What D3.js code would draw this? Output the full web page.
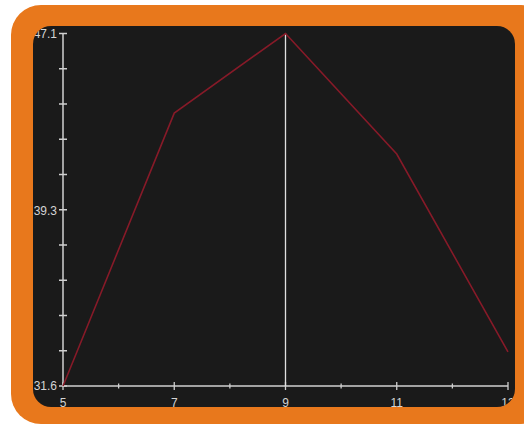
<!DOCTYPE html>
<html><head><meta charset="utf-8">
<script src="https://cdn.jsdelivr.net/npm/d3@7/dist/d3.min.js"></script>
<style>html,body{margin:0;padding:0;background:#fff;}svg{display:block;}</style>
</head><body>
<script>
const xValues = [5, 7, 9, 11, 13];
const yValues = [31.6, 43.6, 47.1, 41.8, 33.1];
const xTickLabels = ["5", "7", "9", "11", "13"];
const yTickLabels = ["31.6", "39.3", "47.1"];
const highlightX = 9;

const W = 524, H = 426;
const svg = d3.select("body").append("svg").attr("width", W).attr("height", H);

svg.append("rect").attr("x", 11).attr("y", 5).attr("width", 540).attr("height", 419)
  .attr("rx", 30).attr("fill", "#e8781c");
svg.append("rect").attr("x", 33).attr("y", 26).attr("width", 482).attr("height", 381)
  .attr("rx", 18).attr("fill", "#1a1a1a");

const defs = svg.append("defs");
defs.append("clipPath").attr("id", "panel").append("rect")
  .attr("x", 33).attr("y", 26).attr("width", 482).attr("height", 381).attr("rx", 18);

const g = svg.append("g").attr("clip-path", "url(#panel)");

const x = d3.scaleLinear().domain([5, 13]).range([63, 508]);
const y = d3.scaleLinear().domain([31.6, 47.1]).range([386, 33.5]);

const axisColor = "#d0d0d0";
const font = "Liberation Sans, Arial, sans-serif";
g.append("line").attr("x1", x(5)).attr("x2", x(13)).attr("y1", y(31.6)).attr("y2", y(31.6))
  .attr("stroke", axisColor).attr("stroke-width", 1.5);
g.append("line").attr("x1", x(5)).attr("x2", x(5)).attr("y1", y(31.6)).attr("y2", y(47.1))
  .attr("stroke", axisColor).attr("stroke-width", 1.5);

d3.range(5, 14).forEach((v, i) => {
  const major = i % 2 === 0;
  const h = major ? 4 : 2.5;
  g.append("line").attr("x1", x(v)).attr("x2", x(v))
    .attr("y1", y(31.6) - h).attr("y2", y(31.6) + h)
    .attr("stroke", axisColor).attr("stroke-width", 1.3);
});
xTickLabels.forEach(t => {
  g.append("text").attr("x", x(+t)).attr("y", 407).attr("text-anchor", "middle")
    .attr("fill", "#d4d4d4").attr("font-family", font)
    .attr("font-size", 12).text(t);
});

const yTicks = d3.range(11).map(i => 31.6 + i * (47.1 - 31.6) / 10);
yTicks.forEach(v => {
  g.append("line").attr("x1", x(5) - 4).attr("x2", x(5) + 4)
    .attr("y1", y(v)).attr("y2", y(v))
    .attr("stroke", axisColor).attr("stroke-width", 1.3);
});
yTickLabels.forEach(t => {
  g.append("text").attr("x", x(5) - 6).attr("y", y(+t) + 4).attr("text-anchor", "end")
    .attr("fill", "#d4d4d4").attr("font-family", font)
    .attr("font-size", 12).text(t);
});

g.append("line").attr("x1", x(highlightX)).attr("x2", x(highlightX))
  .attr("y1", y(31.6)).attr("y2", y(47.1))
  .attr("stroke", "#e0e0e0").attr("stroke-width", 1.3);

const data = xValues.map((v, i) => [v, yValues[i]]);
g.append("path").datum(data)
  .attr("d", d3.line().x(d => x(d[0])).y(d => y(d[1])))
  .attr("fill", "none").attr("stroke", "#861a28").attr("stroke-width", 1.6);
</script>
</body></html>
